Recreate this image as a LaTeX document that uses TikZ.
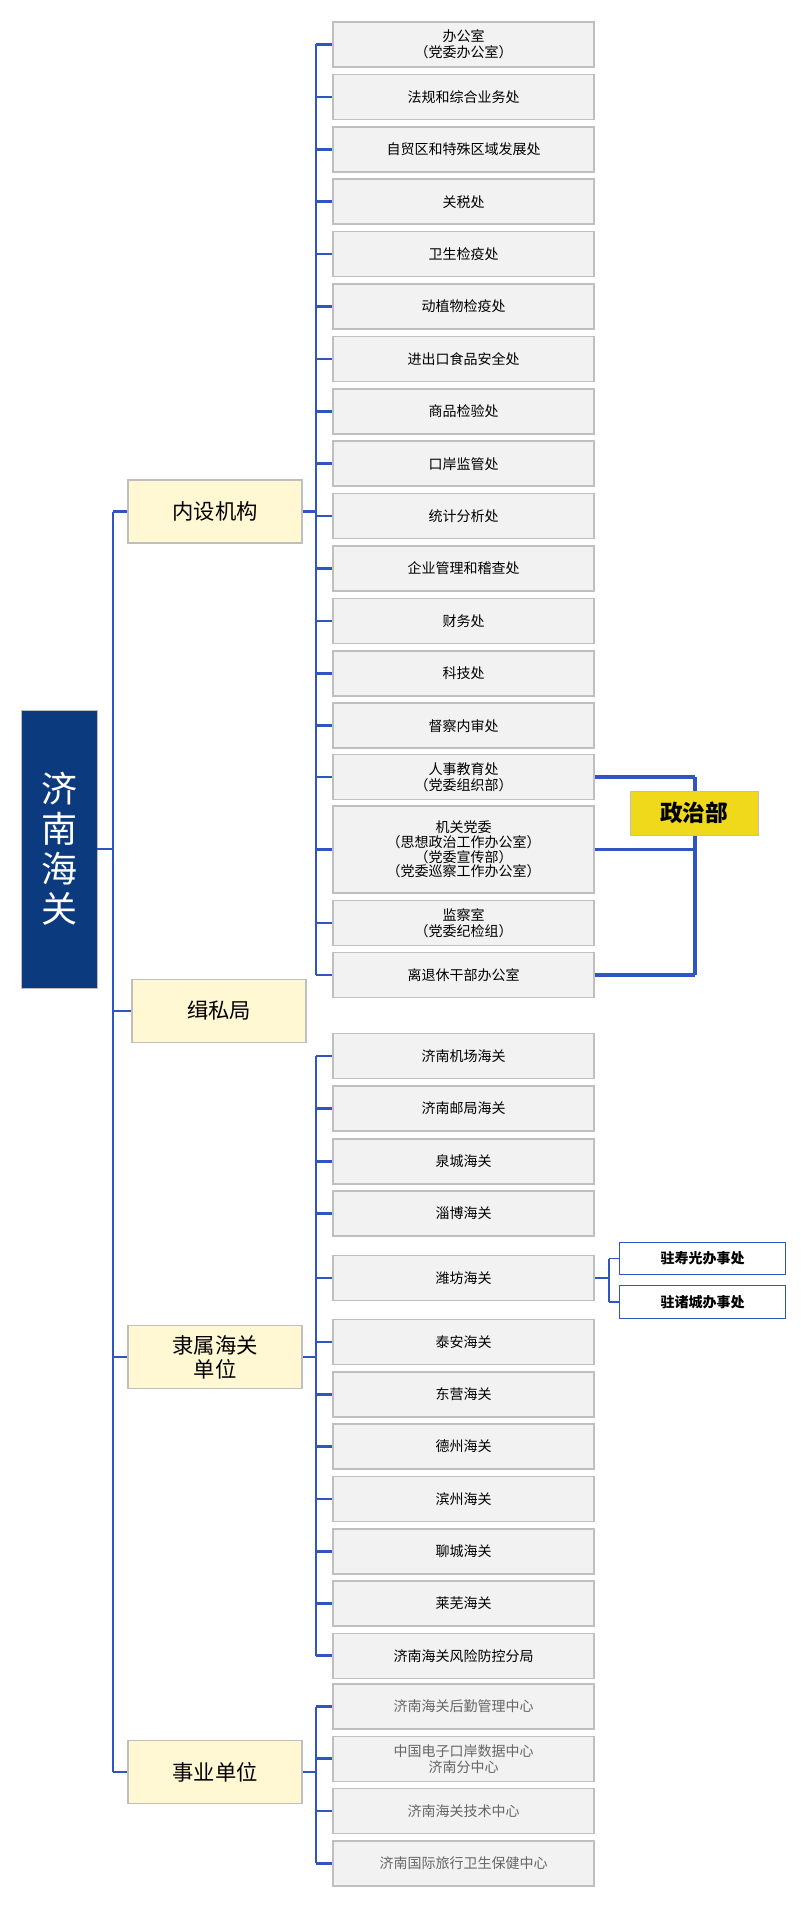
\documentclass[tikz,border=0pt]{standalone}
\usepackage{fontspec}
\setmainfont{Noto Sans CJK SC}
\usetikzlibrary{positioning}
\definecolor{linkblue}{HTML}{2F55C0}
\definecolor{boxgray}{HTML}{F2F2F2}
\definecolor{edgegray}{HTML}{BFBFBF}
\definecolor{rootblue}{HTML}{0B3A7E}
\definecolor{groupyellow}{HTML}{FFF8D2}
\definecolor{deptyellow}{HTML}{F0D81A}
\tikzset{
  unit/.style={draw=edgegray,fill=boxgray,line width=1.2pt,align=center,inner sep=0,
    minimum width=195.75pt,minimum height=33.75pt,font=\fontsize{10.5}{12}\selectfont},
  group/.style={draw=edgegray,fill=groupyellow,line width=1.2pt,align=center,inner sep=0,
    minimum width=130.5pt,minimum height=47pt,font=\fontsize{16}{17}\selectfont},
  office/.style={draw=linkblue,fill=white,line width=0.9pt,inner sep=0,
    minimum width=125pt,minimum height=24.5pt,font=\bfseries\fontsize{10.5}{12}\selectfont},
  link/.style={draw=linkblue,line width=2pt},
}
\begin{document}
\begin{tikzpicture}[x=0.75pt,y=-0.75pt]
  \useasboundingbox (0,0) rectangle (800,1927);
  % root and groups
  \node [draw=edgegray,fill=rootblue,text=white,align=center,inner sep=0,minimum width=57pt,
    minimum height=208.5pt,font=\fontsize{27}{30}\selectfont] (root) at (59,849) {济\\南\\海\\关};
  \node [group] (inner) at (215,511.5) {内设机构};
  \node [group] (anti) at (219,1011) {缉私局};
  \node [group,font=\fontsize{16}{18}\selectfont] (subs) at (215,1357) {隶属海关\\单位};
  \node [group] (public) at (215,1772) {事业单位};

  % internal departments
  \foreach \txt [count=\i from 0] in {{办公室\\（党委办公室）},法规和综合业务处,自贸区和特殊区域发展处,关税处,
      卫生检疫处,动植物检疫处,进出口食品安全处,商品检验处,口岸监管处,统计分析处,
      企业管理和稽查处,财务处,科技处,督察内审处}
    \node [unit] (d\i) at (463.5,44.5+52.4*\i) {\txt};
  \node [unit] (d14) at (463.5,777) {人事教育处\\（党委组织部）};
  \node [unit,minimum height=65pt,font=\fontsize{10.5}{11}\selectfont] (d15) at (463.5,849.5)
    {机关党委\\（思想政治工作办公室）\\（党委宣传部）\\（党委巡察工作办公室）};
  \node [unit] (d16) at (463.5,923) {监察室\\（党委纪检组）};
  \node [unit] (d17) at (463.5,975) {离退休干部办公室};

  % subordinate customs
  \node [unit] (s0) at (463.5,1056) {济南机场海关};
  \node [unit] (s1) at (463.5,1108.5) {济南邮局海关};
  \node [unit] (s2) at (463.5,1161.5) {泉城海关};
  \node [unit] (s3) at (463.5,1213.5) {淄博海关};
  \node [unit] (s4) at (463.5,1278) {潍坊海关};
  \foreach \txt [count=\i from 5] in {泰安海关,东营海关,德州海关,滨州海关,聊城海关,莱芜海关,济南海关风险防控分局}
    \node [unit] (s\i) at (463.5,1342+52.3*\i-261.5) {\txt};
  \node [office] (w1) at (702.5,1258.5) {驻寿光办事处};
  \node [office] (w2) at (702.5,1302) {驻诸城办事处};

  % public institutions
  \foreach \txt [count=\i from 0] in {济南海关后勤管理中心,{中国电子口岸数据中心\\济南分中心},
      济南海关技术中心,济南国际旅行卫生保健中心}
    \node [unit,text=black!60] (p\i) at (463.5,1706.5+52.3*\i) {\txt};

  % connectors
  \coordinate (trunk) at (113,0);
  \draw [link] (root.east) -- (root.east -| trunk);
  \draw [link] (inner.west -| trunk) -- (public.west -| trunk);
  \foreach \g in {inner,anti,subs,public}
    \draw [link] (\g.west -| trunk) -- (\g.west);

  \coordinate (busa) at (316,0);
  \draw [link] (inner.east) -- (inner.east -| busa);
  \draw [link] (d0.west -| busa) -- (d17.west -| busa);
  \foreach \i in {0,...,17}
    \draw [link] (d\i.west -| busa) -- (d\i.west);
  \draw [link] (subs.east) -- (subs.east -| busa);
  \draw [link] (s0.west -| busa) -- (s11.west -| busa);
  \foreach \i in {0,...,11}
    \draw [link] (s\i.west -| busa) -- (s\i.west);
  \draw [link] (public.east) -- (public.east -| busa);
  \draw [link] (p0.west -| busa) -- (p3.west -| busa);
  \foreach \i in {0,...,3}
    \draw [link] (p\i.west -| busa) -- (p\i.west);

  \coordinate (busw) at (609,0);
  \draw [link,line width=1.2pt] (s4.east) -- (s4.east -| busw);
  \draw [link,line width=1.2pt] (w1.west -| busw) -- (w2.west -| busw);
  \foreach \w in {w1,w2}
    \draw [link,line width=1.2pt] (\w.west -| busw) -- (\w.west);

  \coordinate (busp) at (695,0);
  \draw [link,line width=2.5pt] (d14.east -| busp) -- (d17.east -| busp);
  \foreach \i in {14,15,17}
    \draw [link,line width=2.5pt] (d\i.east) -- (d\i.east -| busp);
  \node [draw=edgegray,fill=deptyellow,inner sep=0,minimum width=96pt,minimum height=33pt,
    font=\bfseries\fontsize{17}{18}\selectfont] (polit) at (694,813) {政治部};
\end{tikzpicture}
\end{document}
